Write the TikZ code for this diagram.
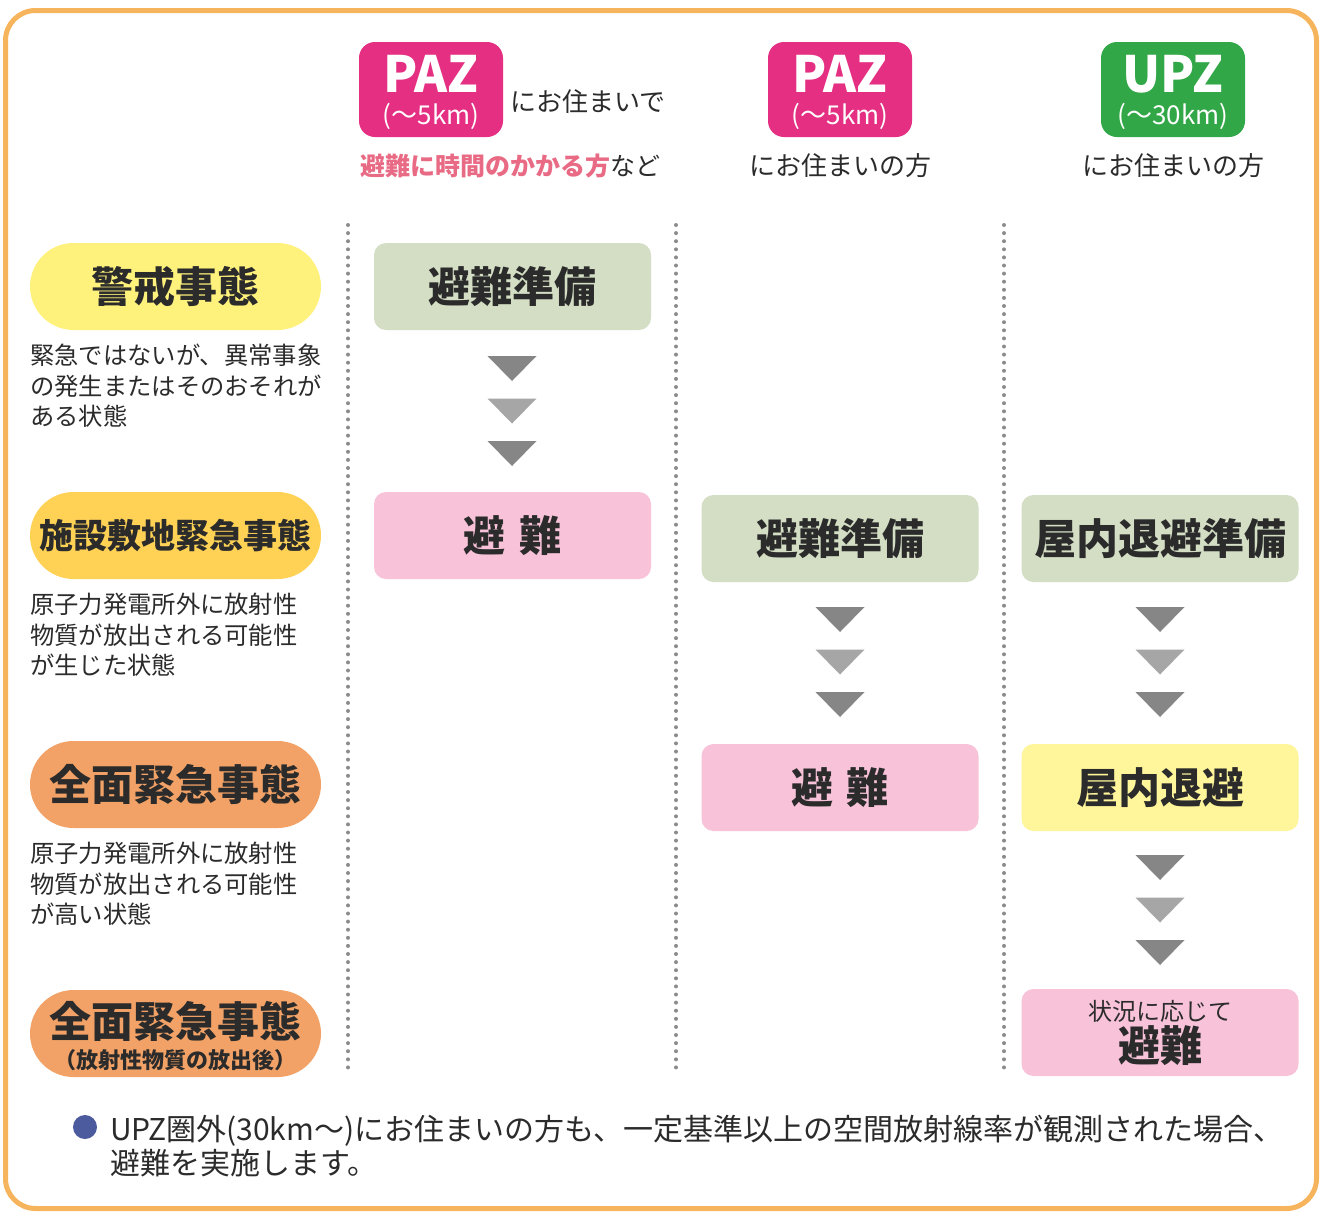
\documentclass[tikz,border=0pt]{standalone}
\usepackage{fontspec}
\setmainfont{Noto Sans CJK JP}
\usetikzlibrary{positioning}
\definecolor{frameorange}{HTML}{F6B45C}
\definecolor{pazpink}{HTML}{E52F83}
\definecolor{upzgreen}{HTML}{32A748}
\definecolor{notepink}{HTML}{E96A84}
\definecolor{inktext}{HTML}{2B2B2B}
\definecolor{alertyellow}{HTML}{FFF27C}
\definecolor{siteyellow}{HTML}{FFD256}
\definecolor{fullorange}{HTML}{F2A266}
\definecolor{prepgreen}{HTML}{D3DEC4}
\definecolor{evacpink}{HTML}{F8C3D9}
\definecolor{shelteryellow}{HTML}{FFF59B}
\definecolor{tridark}{HTML}{868686}
\definecolor{trilight}{HTML}{A6A6A6}
\definecolor{dotgray}{HTML}{8C8C8C}
\definecolor{bulletblue}{HTML}{4B5B9E}
\newcommand\fsz[2]{\fontsize{#1}{#2}\selectfont}
\tikzset{
  badge/.style={rounded corners=16pt, minimum width=144pt, minimum height=95pt, inner sep=0pt},
  badgebig/.style={text=white, font=\fsz{50}{50}\bfseries, inner sep=0pt},
  badgesmall/.style={text=white, font=\fsz{26}{26}, inner sep=0pt},
  head/.style={text=inktext, font=\fsz{26}{26}, inner sep=0pt},
  pill/.style={rounded corners=43.5pt, minimum width=291pt, minimum height=87pt, inner sep=0pt, text=inktext},
  desc/.style={text=inktext, font=\fsz{24.3}{30.5}, align=left, inner sep=0pt, anchor=north west},
  stepbox/.style={rounded corners=12pt, minimum width=277pt, minimum height=87pt, inner sep=0pt, text=inktext, font=\fsz{42}{42}\bfseries},
  dotline/.style={dotgray, line width=4pt, line cap=round, dash pattern=on 0pt off 8.1pt},
  notetext/.style={text=inktext, font=\fsz{30}{30}, inner sep=0pt, anchor=base west},
}
\begin{document}
\begin{tikzpicture}[x=1pt,y=-1pt]
\useasboundingbox (0,0) rectangle (1322,1211);
\fill[white] (0,0) rectangle (1322,1211);
\draw[frameorange, line width=5pt, rounded corners=30pt] (5.5,10.5) rectangle (1316.5,1208.5);
%% column heads
\node[badge, fill=pazpink] (paz1) at (431,89.5) {};
\node[badgebig] (paz1t) at (431,74) {PAZ};
\node[badgesmall] (paz1s) at (431,116) {(～5km)};
\node[head, anchor=west] (paz1h) at (510,102) {にお住まいで};
\node[head, font=\fsz{25}{25}] (paz1n) at (510,166) {{\bfseries\color{notepink}避難に時間のかかる方}など};
\node[badge, fill=pazpink] (paz2) at (840,89.5) {};
\node[badgebig] (paz2t) at (840,74) {PAZ};
\node[badgesmall] (paz2s) at (840,116) {(～5km)};
\node[head] (paz2h) at (840,166) {にお住まいの方};
\node[badge, fill=upzgreen] (upz) at (1173,89.5) {};
\node[badgebig] (upzt) at (1173,74) {UPZ};
\node[badgesmall] (upzs) at (1173,116) {(～30km)};
\node[head] (upzh) at (1173,166) {にお住まいの方};
%% dotted separators
\draw[dotline] (348,225) -- (348,1075);
\draw[dotline] (676,225) -- (676,1075);
\draw[dotline] (1004,225) -- (1004,1075);
%% stages
\node[pill, fill=alertyellow, font=\fsz{42}{42}\bfseries] (alert) at (175.5,286.5) {警戒事態};
\node[desc] (alertd) at (30,344) {緊急ではないが、異常事象\\の発生またはそのおそれが\\ある状態};
\node[pill, fill=siteyellow, font=\fsz{34}{34}\bfseries] (site) at (175.5,535.5) {施設敷地緊急事態};
\node[desc] (sited) at (30,593) {原子力発電所外に放射性\\物質が放出される可能性\\が生じた状態};
\node[pill, fill=fullorange, font=\fsz{42}{42}\bfseries] (full) at (175.5,784.5) {全面緊急事態};
\node[desc] (fulld) at (30,842) {原子力発電所外に放射性\\物質が放出される可能性\\が高い状態};
\node[pill, fill=fullorange] (rel) at (175.5,1033.5) {};
\node[text=inktext, font=\fsz{42}{42}\bfseries, inner sep=0pt] (relt) at (175.5,1021) {全面緊急事態};
\node[text=inktext, font=\fsz{22}{22}\bfseries, inner sep=0pt] (rels) at (175.5,1060) {（放射性物質の放出後）};
%% actions
\node[stepbox, fill=prepgreen] (a1) at (512.5,286.5) {避難準備};
\node[stepbox, fill=evacpink] (a2) at (512.5,535.5) {避\hspace{14pt}難};
\node[stepbox, fill=prepgreen] (b1) at (840,538.5) {避難準備};
\node[stepbox, fill=evacpink] (b2) at (840,787.5) {避\hspace{14pt}難};
\node[stepbox, fill=prepgreen] (c1) at (1160,538.5) {屋内退避準備};
\node[stepbox, fill=shelteryellow] (c2) at (1160,787.5) {屋内退避};
\node[stepbox, fill=evacpink] (c3) at (1160,1032.5) {};
\node[text=inktext, font=\fsz{24}{24}, inner sep=0pt] (c3s) at (1160,1011) {状況に応じて};
\node[text=inktext, font=\fsz{42}{42}\bfseries, inner sep=0pt] (c3t) at (1160,1046) {避難};
%% chevrons
\foreach \cx/\cy in {512/356, 840/607, 1160/607, 1160/855}{
  \fill[tridark] (\cx-24.5,\cy) -- (\cx+24.5,\cy) -- (\cx,\cy+25) -- cycle;
  \fill[trilight] (\cx-24.5,\cy+42.5) -- (\cx+24.5,\cy+42.5) -- (\cx,\cy+67.5) -- cycle;
  \fill[tridark] (\cx-24.5,\cy+85) -- (\cx+24.5,\cy+85) -- (\cx,\cy+110) -- cycle;
}
%% note
\node[circle, fill=bulletblue, minimum size=24pt, inner sep=0pt] (bullet) at (85,1127) {};
\node[notetext] (note1) at (110,1140) {UPZ圏外(30km～)にお住まいの方も、一定基準以上の空間放射線率が観測された場合、};
\node[notetext] (note2) at (110,1174) {避難を実施します。};
\end{tikzpicture}
\end{document}
